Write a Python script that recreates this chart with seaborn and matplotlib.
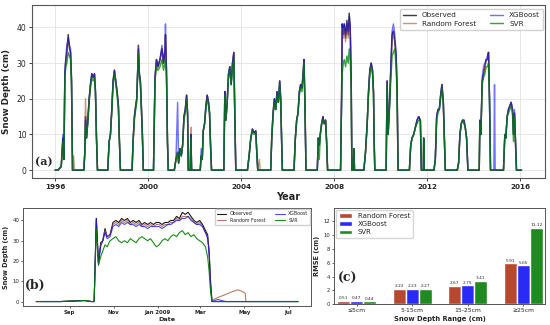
import numpy as np
import pandas as pd
import matplotlib
matplotlib.use("Agg")
import matplotlib.pyplot as plt
import seaborn as sns

# ---------------- Panel (a): long time series (decimal year, cm) ----------------
a_year = [1996.000,
    1996.114, 1996.258, 1996.329, 1996.372, 1996.415, 1996.458, 1996.500, 1996.558, 1996.615, 1996.658, 1996.700, 1996.744, 1996.790, 1996.830,
    1997.230, 1997.273, 1997.302, 1997.345, 1997.402, 1997.459, 1997.516, 1997.574, 1997.631, 1997.688, 1997.731, 1997.774, 1997.817,
    1998.260, 1998.318, 1998.375, 1998.432, 1998.489, 1998.546, 1998.604, 1998.661, 1998.718, 1998.761, 1998.804,
    1999.305, 1999.348, 1999.405, 1999.462, 1999.505, 1999.548, 1999.577, 1999.620, 1999.662, 1999.705, 1999.748, 1999.791,
    2000.227, 2000.292, 2000.356, 2000.421, 2000.506, 2000.592, 2000.657, 2000.721, 2000.742, 2000.785, 2000.828, 2000.862,
    2001.122, 2001.193, 2001.265, 2001.308, 2001.365, 2001.422, 2001.480, 2001.537, 2001.594, 2001.651, 2001.694, 2001.723, 2001.808, 2001.837, 2001.866,
    2002.238, 2002.280, 2002.324, 2002.367, 2002.424, 2002.481, 2002.538, 2002.595, 2002.638, 2002.681, 2002.724,
    2003.253, 2003.296, 2003.339, 2003.397, 2003.454, 2003.511, 2003.568, 2003.626, 2003.683, 2003.726, 2003.768,
    2004.269, 2004.340, 2004.412, 2004.484, 2004.555, 2004.627, 2004.670, 2004.713, 2004.780, 2004.820,
    2005.270, 2005.314, 2005.371, 2005.428, 2005.485, 2005.542, 2005.600, 2005.657, 2005.700, 2005.743, 2005.772,
    2006.272, 2006.330, 2006.387, 2006.444, 2006.501, 2006.558, 2006.616, 2006.673, 2006.701, 2006.744, 2006.787,
    2007.274, 2007.317, 2007.360, 2007.402, 2007.460, 2007.517, 2007.574, 2007.631, 2007.674, 2007.717,
    2008.275, 2008.318, 2008.347, 2008.390, 2008.433, 2008.490, 2008.547, 2008.604, 2008.647, 2008.690, 2008.733, 2008.762, 2008.819, 2008.847, 2008.876,
    2009.277, 2009.348, 2009.420, 2009.477, 2009.534, 2009.591, 2009.649, 2009.692, 2009.720, 2009.749,
    2010.235, 2010.278, 2010.321, 2010.378, 2010.435, 2010.493, 2010.550, 2010.607, 2010.664, 2010.707, 2010.750,
    2011.236, 2011.293, 2011.350, 2011.422, 2011.493, 2011.565, 2011.636, 2011.708, 2011.751, 2011.837, 2011.851, 2011.879,
    2012.294, 2012.351, 2012.409, 2012.466, 2012.523, 2012.580, 2012.637, 2012.695, 2012.738, 2012.781,
    2013.296, 2013.353, 2013.410, 2013.467, 2013.525, 2013.582, 2013.639, 2013.696, 2013.754,
    2014.240, 2014.268, 2014.311, 2014.369, 2014.426, 2014.483, 2014.540, 2014.597, 2014.640, 2014.683, 2014.726, 2014.869, 2014.898, 2014.927,
    2015.284, 2015.342, 2015.384, 2015.442, 2015.499, 2015.556, 2015.613, 2015.671, 2015.714, 2015.757, 2015.800, 2015.843, 2016.060]

a_obs = [0,
    0, 1, 9, 3, 27, 31, 33, 38, 34, 33, 25, 0, 0, 0,
    0, 5, 15, 9, 14, 20, 24, 27, 26, 27, 22, 9, 0,
    0, 8, 10, 17, 25, 28, 25, 22, 18, 8, 0,
    0, 8, 15, 18, 20, 28, 35, 27, 25, 18, 10, 0,
    0, 26, 31, 29, 31, 34, 30, 33, 38, 28, 8, 0,
    0, 3, 5, 2, 6, 4, 7, 15, 17, 21, 16, 0, 0, 10, 0,
    0, 4, 3, 11, 13, 18, 21, 19, 16, 7, 0,
    0, 22, 14, 19, 27, 29, 24, 30, 33, 15, 0,
    0, 4, 9, 11.5, 10.5, 11, 5, 0, 0, 0,
    0, 9, 16, 20, 17, 22, 19, 25, 20, 7, 0,
    0, 9, 14, 16, 22, 24, 23, 28, 31, 18, 0,
    0, 9, 7, 10, 13, 15, 13, 14, 8, 0,
    0, 20, 41, 38, 41, 37, 42, 38, 44, 40, 25, 0, 0, 6, 0,
    0, 5, 13, 22, 28, 30, 28, 22, 8, 0,
    0, 25, 10, 18, 28, 38, 39, 36, 32, 23, 0,
    0, 7, 9, 10, 12, 14, 15, 14, 0, 0, 9, 0,
    0, 3, 15, 17, 17, 21, 24, 19, 10, 0,
    0, 2, 10, 13, 14, 14, 12, 9, 0,
    0, 14, 10, 25, 27, 29, 31, 31, 33, 20, 0, 0, 0, 0,
    0, 10, 9, 15, 17, 18, 19, 17, 10, 16, 8, 0, 0]

a_rf = [0,
    0, 1, 8, 3, 27, 31, 33, 37, 34, 33, 25, 0, 4, 0,
    0, 5, 20, 9, 14, 20, 24, 27, 26, 27, 22, 9, 0,
    0, 8, 10, 17, 25, 28, 25, 22, 18, 8, 0,
    0, 8, 15, 18, 20, 28, 35, 27, 25, 18, 10, 0,
    0, 26, 31, 29, 31, 34, 30, 33, 37, 28, 8, 0,
    0, 3, 5, 2, 6, 4, 7, 15, 17, 21, 16, 0, 0, 12, 0,
    0, 4, 3, 11, 13, 18, 21, 19, 16, 7, 0,
    0, 22, 14, 19, 27, 29, 24, 30, 33, 15, 0,
    0, 4, 9, 11.5, 10.5, 11, 5, 0, 3, 0,
    0, 9, 16, 20, 17, 22, 19, 25, 20, 7, 0,
    0, 9, 14, 16, 22, 24, 23, 28, 31, 18, 0,
    0, 9, 7, 10, 13, 15, 13, 14, 8, 0,
    0, 20, 39, 37, 40, 36, 41, 37, 42, 39, 25, 0, 0, 6, 0,
    0, 5, 13, 22, 28, 30, 28, 22, 8, 0,
    0, 25, 10, 18, 28, 37, 38, 36, 32, 23, 0,
    0, 7, 9, 10, 12, 14, 15, 14, 0, 0, 9, 0,
    0, 3, 15, 17, 17, 21, 24, 19, 10, 0,
    0, 2, 10, 13, 14, 14, 12, 9, 0,
    0, 14, 10, 25, 27, 29, 31, 31, 33, 20, 0, 0, 0, 0,
    0, 10, 9, 15, 17, 18, 19, 17, 10, 16, 8, 0, 0]

a_xgb = [0,
    0, 1, 10, 3, 28, 32, 35, 37, 35, 34, 26, 0, 0, 0,
    0, 5, 14, 9, 14, 20, 24, 27, 26, 27, 22, 9, 0,
    0, 8, 10, 17, 25, 28, 25, 22, 18, 8, 0,
    0, 8, 15, 18, 20, 28, 34, 27, 25, 18, 10, 0,
    0, 26, 31, 29, 31, 35, 30, 34, 41, 28, 8, 0,
    0, 3, 19, 2, 6, 4, 7, 15, 17, 21, 16, 0, 0, 10, 0,
    0, 6, 3, 11, 13, 18, 21, 19, 16, 7, 0,
    0, 22, 14, 19, 27, 29, 24, 30, 33, 15, 0,
    0, 4, 9, 11.5, 10.5, 11, 5, 0, 0, 0,
    0, 9, 16, 20, 17, 22, 19, 25, 20, 7, 0,
    0, 9, 14, 16, 22, 24, 23, 28, 31, 18, 0,
    0, 9, 7, 10, 13, 15, 13, 14, 8, 0,
    0, 20, 41, 40, 41, 38, 41, 39, 43, 40, 25, 0, 0, 6, 0,
    0, 5, 13, 22, 28, 30, 28, 22, 8, 0,
    0, 25, 10, 18, 29, 39, 41, 38, 33, 23, 0,
    0, 7, 9, 10, 12, 14, 15, 14, 0, 0, 9, 0,
    0, 3, 15, 17, 17, 21, 24, 19, 10, 0,
    0, 2, 10, 13, 14, 14, 12, 9, 0,
    0, 14, 10, 26, 29, 30, 31, 32, 33, 20, 0, 0, 24, 0,
    0, 10, 9, 15, 17, 18, 19, 17, 10, 17, 8, 0, 0]

a_svr = [0,
    0, 1, 8, 3, 26, 29, 30, 33, 32, 31, 24, 0, 0, 0,
    0, 5, 13, 9, 13, 19, 23, 26, 25, 26, 21, 9, 0,
    0, 8, 10, 16, 24, 27, 24, 21, 17, 8, 0,
    0, 8, 14, 17, 19, 27, 33, 26, 24, 17, 10, 0,
    0, 25, 29, 28, 29, 31, 28, 30, 31, 26, 8, 0,
    0, 3, 5, 2, 6, 4, 7, 14, 16, 20, 15, 0, 0, 9, 0,
    0, 4, 3, 11, 13, 17, 20, 18, 16, 7, 0,
    0, 21, 14, 19, 26, 28, 24, 29, 31, 15, 0,
    0, 4, 9, 11, 10, 10.5, 5, 0, 0, 0,
    0, 9, 15, 19, 17, 21, 19, 24, 19, 7, 0,
    0, 9, 14, 16, 21, 23, 22, 27, 30, 18, 0,
    0, 9, 3, 10, 13, 14, 13, 14, 8, 0,
    0, 19, 27, 30, 31, 29, 32, 30, 34, 31, 22, 0, 0, 6, 0,
    0, 5, 13, 21, 27, 29, 27, 21, 8, 0,
    0, 24, 10, 17, 25, 32, 33, 34, 29, 20, 0,
    0, 7, 9, 10, 12, 13, 14, 14, 0, 0, 9, 0,
    0, 3, 14, 16, 17, 20, 23, 19, 10, 0,
    0, 2, 10, 13, 14, 13, 12, 9, 0,
    0, 13, 10, 24, 26, 27, 29, 29, 30, 19, 0, 0, 0, 0,
    0, 10, 9, 15, 16, 17, 18, 16, 8, 15, 8, 0, 0]

a_xticks = [1996, 2000, 2004, 2008, 2012, 2016]

# ---------------- Panel (b): 2008-2009 season ----------------
b_dates = ["2008-07-17", "2008-08-20", "2008-09-22", "2008-10-01", "2008-10-05",
           "2008-10-08", "2008-10-11", "2008-10-14", "2008-10-17", "2008-10-20", "2008-10-23",
           "2008-10-27", "2008-10-31", "2008-11-04", "2008-11-08", "2008-11-12", "2008-11-16",
           "2008-11-20", "2008-11-24", "2008-11-28", "2008-12-02", "2008-12-06", "2008-12-10",
           "2008-12-14", "2008-12-18", "2008-12-22", "2008-12-26", "2008-12-30", "2009-01-03",
           "2009-01-07", "2009-01-11", "2009-01-15", "2009-01-19", "2009-01-23", "2009-01-27",
           "2009-01-31", "2009-02-04", "2009-02-08", "2009-02-12", "2009-02-16", "2009-02-20",
           "2009-02-24", "2009-02-28", "2009-03-04", "2009-03-08", "2009-03-11", "2009-03-13",
           "2009-03-15", "2009-03-17", "2009-03-25", "2009-04-05", "2009-04-15", "2009-04-22",
           "2009-04-28", "2009-05-02", "2009-05-03", "2009-07-14"]
b_obs = [0, 0, 0.5, 0, 0,
         41, 19, 29, 30, 36, 32,
         33, 39, 40, 39, 41, 40,
         41, 39, 40, 39, 40, 38,
         39, 38, 39, 38, 39, 39,
         38, 39, 39, 40, 40, 42,
         41, 44, 43, 44, 42, 40,
         39, 40, 38, 35, 33, 25,
         10, 0, 0, 0, 0, 0,
         0, 0, 0, 0]
b_rf = [0, 0, 0.5, 0, 0,
        40, 19, 28, 30, 35, 32,
        33, 38, 39, 38, 40, 39,
        40, 38, 39, 38, 39, 37,
        38, 37, 38, 37, 38, 38,
        37, 38, 38, 39, 39, 41,
        40, 42, 42, 42, 41, 39,
        38, 39, 37, 34, 32, 25,
        10, 0.5, 2, 3.5, 5, 5.8,
        5, 4, 0, 0]
b_xgb = [0, 0, 0.5, 0, 0,
         41, 18, 27, 30, 34, 31,
         32, 37, 38, 37, 39, 38,
         39, 38, 38, 37, 38, 37,
         37, 36, 37, 37, 37, 37,
         36, 37, 38, 38, 39, 40,
         40, 41, 41, 42, 40, 39,
         38, 38, 37, 34, 31, 24,
         8, 0, 1, 0, 0, 0,
         0, 0, 0, 0]
b_svr = [0, 0, 0.5, 0, 0,
         36, 18, 22, 25, 28, 27,
         30, 31, 32, 30, 29, 30,
         29, 31, 30, 29, 31, 32,
         31, 30, 31, 29, 27, 28,
         30, 31, 30, 32, 33, 32,
         34, 35, 33, 34, 32, 33,
         31, 30, 29, 27, 22, 15,
         5, 0, 0, 0, 0, 0,
         0, 0, 0, 0]
b_tick_dates = ["2008-09-01", "2008-11-01", "2009-01-01", "2009-03-01", "2009-05-01", "2009-07-01"]
b_tick_labels = ["Sep", "Nov", "Jan 2009", "Mar", "May", "Jul"]

# ---------------- Panel (c): RMSE by depth range ----------------
c_ranges = ["≤5cm", "5-15cm", "15-25cm", "≥25cm"]
c_rf = [0.51, 2.22, 2.67, 5.91]
c_xgb = [0.47, 2.23, 2.75, 5.65]
c_svr = [0.44, 2.27, 3.41, 11.12]

models = ["Observed", "Random Forest", "XGBoost", "SVR"]
line_colors = {"Observed": "black", "Random Forest": "#a0522d", "XGBoost": "blue", "SVR": "green"}
line_alpha = {"Observed": 0.75, "Random Forest": 0.6, "XGBoost": 0.55, "SVR": 0.75}
bar_colors = ["#b8472f", "#2a2af5", "#1f8a1f"]

sns.set_theme(style="ticks")
plt.rcParams['font.family'] = ['DejaVu Sans']

fig = plt.figure(figsize=(5.5, 3.25), dpi=100)
W, H = 550.0, 325.0

def axes_px(l, t, r, b):
    return fig.add_axes([l / W, 1 - b / H, (r - l) / W, (b - t) / H])

# ---- (a)
ax_a = axes_px(32, 5, 545, 178)
series_a = {"Observed": a_obs, "Random Forest": a_rf, "XGBoost": a_xgb, "SVR": a_svr}
for m in models:
    sns.lineplot(x=a_year, y=series_a[m], ax=ax_a, color=line_colors[m], alpha=line_alpha[m],
                 lw=1.05, label=m, estimator=None, sort=False)
ax_a.set_xlim(1995.0, 2017.07)
ax_a.set_ylim(-2.2, 46.3)
ax_a.set_xticks(a_xticks)
ax_a.set_xticklabels([str(t) for t in a_xticks], fontsize=5.2, fontweight='bold')
ax_a.set_yticks([0, 10, 20, 30, 40])
ax_a.tick_params(axis='y', labelsize=5.5, length=2, width=0.6, pad=2)
ax_a.tick_params(axis='x', length=2, width=0.6, pad=2)
ax_a.grid(True, color='#dddddd', lw=0.5)
ax_a.set_xlabel("Year", fontsize=7, fontweight='bold')
ax_a.xaxis.set_label_coords(0.5, -0.08)
ax_a.set_ylabel("Snow Depth (cm)", fontsize=6.3, fontweight='bold', labelpad=4)
for s in ax_a.spines.values():
    s.set_color('#555555'); s.set_linewidth(0.8)
ax_a.legend(loc='upper right', bbox_to_anchor=(0.996, 0.975), borderaxespad=0, ncol=2,
            fontsize=5.2, handlelength=1.8, frameon=True, framealpha=0.9, edgecolor='#cccccc',
            fancybox=True, borderpad=0.4, labelspacing=0.35)
ax_a.text(0.006, 0.06, "(a)", transform=ax_a.transAxes, fontsize=8, fontweight='bold',
          family='DejaVu Serif', ha='left', va='bottom')

# ---- (b)
ax_b = axes_px(23.3, 208.3, 311, 306)
b_x = pd.to_datetime(b_dates)
series_b = {"Observed": b_obs, "Random Forest": b_rf, "XGBoost": b_xgb, "SVR": b_svr}
for m in models:
    sns.lineplot(x=b_x, y=series_b[m], ax=ax_b, color=line_colors[m],
                 alpha=min(1.0, line_alpha[m] + 0.15), lw=0.8, label=m, estimator=None, sort=False)
ax_b.set_xlim(pd.Timestamp("2008-06-29"), pd.Timestamp("2009-08-01"))
ax_b.set_ylim(-2.2, 46.0)
ax_b.set_xticks(pd.to_datetime(b_tick_dates))
ax_b.set_xticklabels(b_tick_labels, fontsize=3.9, fontweight='bold')
ax_b.set_yticks([0, 10, 20, 30, 40])
ax_b.tick_params(axis='y', labelsize=3.9, length=1.5, width=0.5, pad=1.5)
ax_b.tick_params(axis='x', length=1.5, width=0.5, pad=1.5)
ax_b.set_xlabel("Date", fontsize=4.6, fontweight='bold', labelpad=1)
ax_b.set_ylabel("Snow Depth (cm)", fontsize=4.7, fontweight='bold', labelpad=2)
for s in ax_b.spines.values():
    s.set_color('#555555'); s.set_linewidth(0.7)
ax_b.legend(loc='upper right', bbox_to_anchor=(0.998, 0.99), borderaxespad=0, ncol=2,
            fontsize=3.4, handlelength=2.0, frameon=True, framealpha=0.9, edgecolor='#cccccc',
            borderpad=0.4, labelspacing=0.35)
ax_b.text(0.006, 0.143, "(b)", transform=ax_b.transAxes, fontsize=9, fontweight='bold',
          family='DejaVu Serif', ha='left', va='bottom')

# ---- (c)
ax_c = axes_px(334, 208.3, 545, 304.3)
df_c = pd.DataFrame({
    "range": c_ranges * 3,
    "rmse": c_rf + c_xgb + c_svr,
    "model": ["Random Forest"] * 4 + ["XGBoost"] * 4 + ["SVR"] * 4,
})
sns.barplot(data=df_c, x="range", y="rmse", hue="model", palette=bar_colors, width=0.7,
            ax=ax_c, saturation=1.0, errorbar=None)
for cont in ax_c.containers:
    ax_c.bar_label(cont, fmt='%.2f', fontsize=3.1, padding=0.5)
ax_c.set_xlim(-0.41, 3.39)
ax_c.set_ylim(0, 13.9)
ax_c.set_yticks([0, 2, 4, 6, 8, 10, 12])
ax_c.tick_params(axis='y', labelsize=3.8, length=1.5, width=0.5, pad=1.5)
ax_c.tick_params(axis='x', labelsize=4.3, length=1.5, width=0.5, pad=1.5)
ax_c.set_xlabel("Snow Depth Range (cm)", fontsize=4.9, fontweight='bold', labelpad=1.5)
ax_c.set_ylabel("RMSE (cm)", fontsize=4.8, fontweight='bold', labelpad=2)
for s in ax_c.spines.values():
    s.set_color('#555555'); s.set_linewidth(0.7)
sns.move_legend(ax_c, "upper left", bbox_to_anchor=(0.01, 0.985), borderaxespad=0, title=None,
                fontsize=5.0, frameon=True, handlelength=1.9, edgecolor='#cccccc',
                borderpad=0.4, labelspacing=0.35)
ax_c.text(0.019, 0.2, "(c)", transform=ax_c.transAxes, fontsize=9, fontweight='bold',
          family='DejaVu Serif', ha='left', va='bottom')

fig.savefig("out.png", dpi=100)
